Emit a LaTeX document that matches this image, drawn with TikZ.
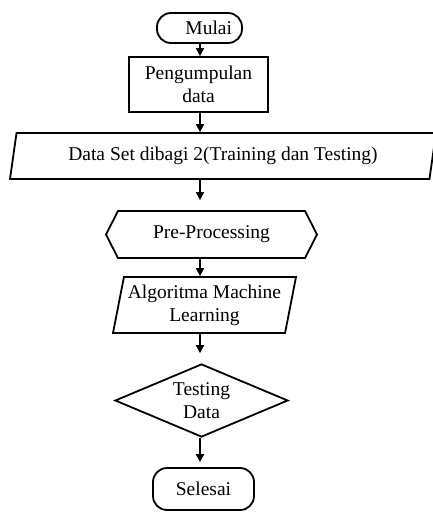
\documentclass[tikz,border=0pt]{standalone}
\usepackage{fontspec}
\setmainfont{Liberation Serif}
\usetikzlibrary{shapes.geometric,shapes.symbols,arrows.meta}
\tikzset{>={Triangle[length=8pt,width=8pt]}}
\tikzset{
    box/.style={draw, line width=1.8pt, font=\fontsize{19.5pt}{23pt}\selectfont, align=center},
    terminal/.style={box, rectangle, rounded corners=14pt},
    process/.style={box, rectangle},
    io/.style={box, trapezium, trapezium stretches body, inner xsep=2pt},
    prepare/.style={box, signal, signal to=west and east, signal pointer angle=126},
    decision/.style={box, diamond, inner sep=0pt},
    flow/.style={->, line width=1.8pt}
}

\begin{document}
\begin{tikzpicture}[x=1pt, y=-1pt]
    \useasboundingbox (0,0) rectangle (433,512);
    \coordinate (axis) at (200,0);
    \node[terminal, minimum height=30pt, text width=65pt, inner xsep=10pt, align=right] (mulai) at (199.5,28) {Mulai};
    \node[process, minimum width=139pt, minimum height=55pt] (kumpul) at (198.5,84.5) {Pengumpulan\\data};
    \node[io, trapezium left angle=75, trapezium right angle=105, minimum width=426pt, minimum height=46pt] (dataset) at (223,156) {Data Set dibagi 2(Training dan Testing)};
    \node[prepare, minimum width=211pt, minimum height=47pt] (prepro) at (211.5,234.5) {Pre-Processing};
    \node[io, trapezium left angle=77, trapezium right angle=103, minimum width=183pt, minimum height=56pt] (algo) at (204.5,305) {Algoritma Machine\\Learning};
    \node[decision, minimum width=173pt, minimum height=73pt, aspect=2.37] (uji) at (201.5,400.5) {Testing\\Data};
    \node[terminal, minimum width=101pt, minimum height=42pt] (selesai) at (203.5,489) {Selesai};
    % panah alur
    \draw[flow] (mulai.south -| axis) -- (kumpul.north -| axis);
    \draw[flow] (kumpul.south -| axis) -- (dataset.north -| axis);
    \draw[flow, shorten >=10pt] (dataset.south -| axis) -- (prepro.north -| axis);
    \draw[flow] (prepro.south -| axis) -- (algo.north -| axis);
    \draw[flow, shorten >=10pt] (algo.south -| axis) -- (uji.north -| axis);
    \draw[flow, shorten >=5pt] (uji.south -| axis) -- (selesai.north -| axis);
\end{tikzpicture}
\end{document}
